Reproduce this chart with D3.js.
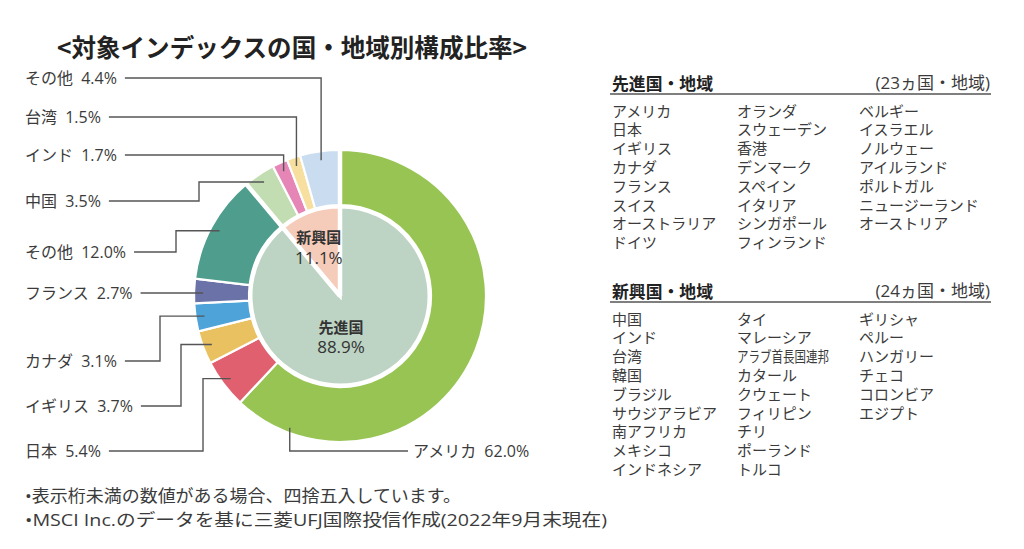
<!DOCTYPE html>
<html><head><meta charset="utf-8">
<script src="https://cdn.jsdelivr.net/npm/d3@7"></script>
<style>
html,body{margin:0;padding:0;background:#fff;}
svg{display:block;font-family:"Open Sans","Noto Sans CJK JP",sans-serif;}
</style></head>
<body>
<svg id="chart" width="1024" height="549"></svg>
<script>
// ---- data ----
const titleText = "<対象インデックスの国・地域別構成比率>";
const countries = ["アメリカ","日本","イギリス","カナダ","フランス","その他","中国","インド","台湾","その他"];
const shares = [62.0,5.4,3.7,3.1,2.7,12.0,3.5,1.7,1.5,4.4];
const countryColors = ["#97c453","#e0606f","#e9c160","#4ea3d9","#6a72a8","#4f9d8d","#c1ddb1","#e586b6","#f7df9f","#c9dcf0"];
const groups = ["先進国","新興国"];
const groupShares = [88.9,11.1];
const groupColors = ["#bdd3c3","#f5cbb9"];

const devTitle = "先進国・地域";
const devCount = "(23ヵ国・地域)";
const devList = [
  ["アメリカ","日本","イギリス","カナダ","フランス","スイス","オーストラリア","ドイツ"],
  ["オランダ","スウェーデン","香港","デンマーク","スペイン","イタリア","シンガポール","フィンランド"],
  ["ベルギー","イスラエル","ノルウェー","アイルランド","ポルトガル","ニュージーランド","オーストリア"]
];
const emTitle = "新興国・地域";
const emCount = "(24ヵ国・地域)";
const emList = [
  ["中国","インド","台湾","韓国","ブラジル","サウジアラビア","南アフリカ","メキシコ","インドネシア"],
  ["タイ","マレーシア","アラブ首長国連邦","カタール","クウェート","フィリピン","チリ","ポーランド","トルコ"],
  ["ギリシャ","ペルー","ハンガリー","チェコ","コロンビア","エジプト"]
];
const notes = ["•表示桁未満の数値がある場合、四捨五入しています。","•MSCI Inc.のデータを基に三菱UFJ国際投信作成(2022年9月末現在)"];

// ---- layout (not data) ----
const cx = 340, cy = 296, rOuter = 146, rRingIn = 91, rPie = 89, rAnchor = 137;
const labelY = [451,451,406,361,293,252,201,155,117,78];
const labelKind = ["up","elbow","elbow","elbow","straight","elbow","elbow","drop","drop","drop"];
const elbowX = [null,203,181,160,null,176,199,null,null,null];
const anchorT = [0.9,0.5,0.5,0.5,0.5,0.5,0.5,0.5,0.5,0.5];

const svg = d3.select("#chart");
const txt = "#3b3b3b", lineC = "#555";
const cjk = "\"Noto Sans CJK JP\",sans-serif";

// title
svg.append("text").attr("x",57).attr("y",46).attr("dominant-baseline","central")
  .attr("font-family",cjk)
  .attr("font-size",25).attr("font-weight",700).attr("fill","#222")
  .attr("textLength",470).attr("lengthAdjust","spacingAndGlyphs").text(titleText);

const g = svg.append("g").attr("transform",`translate(${cx},${cy})`);
const pie = d3.pie().sort(null).value(d=>d);
const outerArcs = pie(shares);
const innerArcs = pie(groupShares);

const arcOuter = d3.arc().innerRadius(rRingIn).outerRadius(rOuter);
const arcInner = d3.arc().innerRadius(0).outerRadius(rPie);

g.selectAll("path.outer").data(outerArcs).join("path").attr("class","outer")
  .attr("d",arcOuter).attr("fill",(d,i)=>countryColors[i])
  .attr("stroke","#fff").attr("stroke-width",2.2).attr("stroke-linejoin","round");
g.selectAll("path.inner").data(innerArcs).join("path").attr("class","inner")
  .attr("d",arcInner).attr("fill",(d,i)=>groupColors[i])
  .attr("stroke","#fff").attr("stroke-width",3);

// group separators (thicker white lines)
innerArcs.forEach(a=>{
  const ang = a.startAngle;
  g.append("line").attr("x1",0).attr("y1",0)
   .attr("x2",(rOuter+2)*Math.sin(ang)).attr("y2",-(rOuter+2)*Math.cos(ang))
   .attr("stroke","#fff").attr("stroke-width",4.5);
});

// inner labels
const centroidAng = (innerArcs[1].startAngle+innerArcs[1].endAngle)/2;
const ex = 62*Math.sin(centroidAng), ey = -62*Math.cos(centroidAng);
g.append("text").attr("x",ex).attr("y",ey-1).attr("text-anchor","middle").attr("dominant-baseline","central")
  .attr("font-family",cjk).attr("font-size",15).attr("font-weight",700).attr("fill","#333").text(groups[1]);
g.append("text").attr("x",ex).attr("y",ey+20).attr("text-anchor","middle").attr("dominant-baseline","central")
  .attr("font-size",17).attr("fill","#333").text(d3.format(".1f")(groupShares[1])+"%");
g.append("text").attr("x",1).attr("y",30).attr("text-anchor","middle").attr("dominant-baseline","central")
  .attr("font-family",cjk).attr("font-size",15).attr("font-weight",700).attr("fill","#333").text(groups[0]);
g.append("text").attr("x",1).attr("y",50).attr("text-anchor","middle").attr("dominant-baseline","central")
  .attr("font-size",17).attr("fill","#333").text(d3.format(".1f")(groupShares[0])+"%");

// outer labels with leader lines
outerArcs.forEach((a,i)=>{
  const ang = a.startAngle + (a.endAngle-a.startAngle)*anchorT[i];
  const r = i===0 ? 141 : rAnchor;
  const ax = cx + r*Math.sin(ang), ay = cy - r*Math.cos(ang);
  const y = labelY[i];
  const label = countries[i]+" "+d3.format(".1f")(shares[i])+"%";
  const kind = labelKind[i];
  const t = svg.append("text").attr("y",y).attr("dominant-baseline","central")
    .attr("font-size",16).attr("word-spacing",4).attr("fill",txt).text(label);
  let pts;
  if (kind==="up") {
    t.attr("x",413);
    pts = [[408,y],[ax,y],[ax,ay]];
  } else {
    t.attr("x",25);
    const x0 = 25 + t.node().getComputedTextLength() + 8;
    if (kind==="straight") pts = [[x0,y],[ax,y]];
    else if (kind==="drop") pts = [[x0,y],[ax,y],[ax,ay]];
    else pts = [[x0,y],[elbowX[i],y],[elbowX[i],ay],[ax,ay]];
  }
  svg.append("path").attr("d",d3.line()(pts)).attr("fill","none")
    .attr("stroke",lineC).attr("stroke-width",1.4);
});

// right panel lists
function panel(title,count,list,headY,lineY,rowY0){
  svg.append("text").attr("x",612).attr("y",headY).attr("dominant-baseline","central")
    .attr("font-family",cjk).attr("font-size",17).attr("font-weight",700).attr("fill","#222")
    .attr("textLength",101).attr("lengthAdjust","spacingAndGlyphs").text(title);
  svg.append("text").attr("x",990).attr("y",headY).attr("text-anchor","end").attr("dominant-baseline","central")
    .attr("font-size",17).attr("fill",txt).text(count);
  svg.append("line").attr("x1",610).attr("x2",991).attr("y1",lineY).attr("y2",lineY)
    .attr("stroke","#555").attr("stroke-width",1.5);
  const colX = [612,737,859];
  list.forEach((col,ci)=>{
    col.forEach((name,ri)=>{
      const tt = svg.append("text").attr("x",colX[ci]).attr("y",rowY0+ri*18.8)
        .attr("dominant-baseline","central").attr("font-family",cjk).attr("font-size",15).attr("fill",txt).text(name);
      if (name.includes("首長")) tt.attr("textLength",92).attr("lengthAdjust","spacingAndGlyphs");
    });
  });
}
panel(devTitle,devCount,devList,82,94,110);
panel(emTitle,emCount,emList,290,302,318);

// notes
svg.append("text").attr("x",25).attr("y",495).attr("dominant-baseline","central")
  .attr("font-size",17).attr("fill",txt).attr("textLength",436).attr("lengthAdjust","spacingAndGlyphs").text(notes[0]);
svg.append("text").attr("x",25).attr("y",519).attr("dominant-baseline","central")
  .attr("font-size",17).attr("fill",txt).attr("textLength",582).attr("lengthAdjust","spacingAndGlyphs").text(notes[1]);
</script>
</body></html>
